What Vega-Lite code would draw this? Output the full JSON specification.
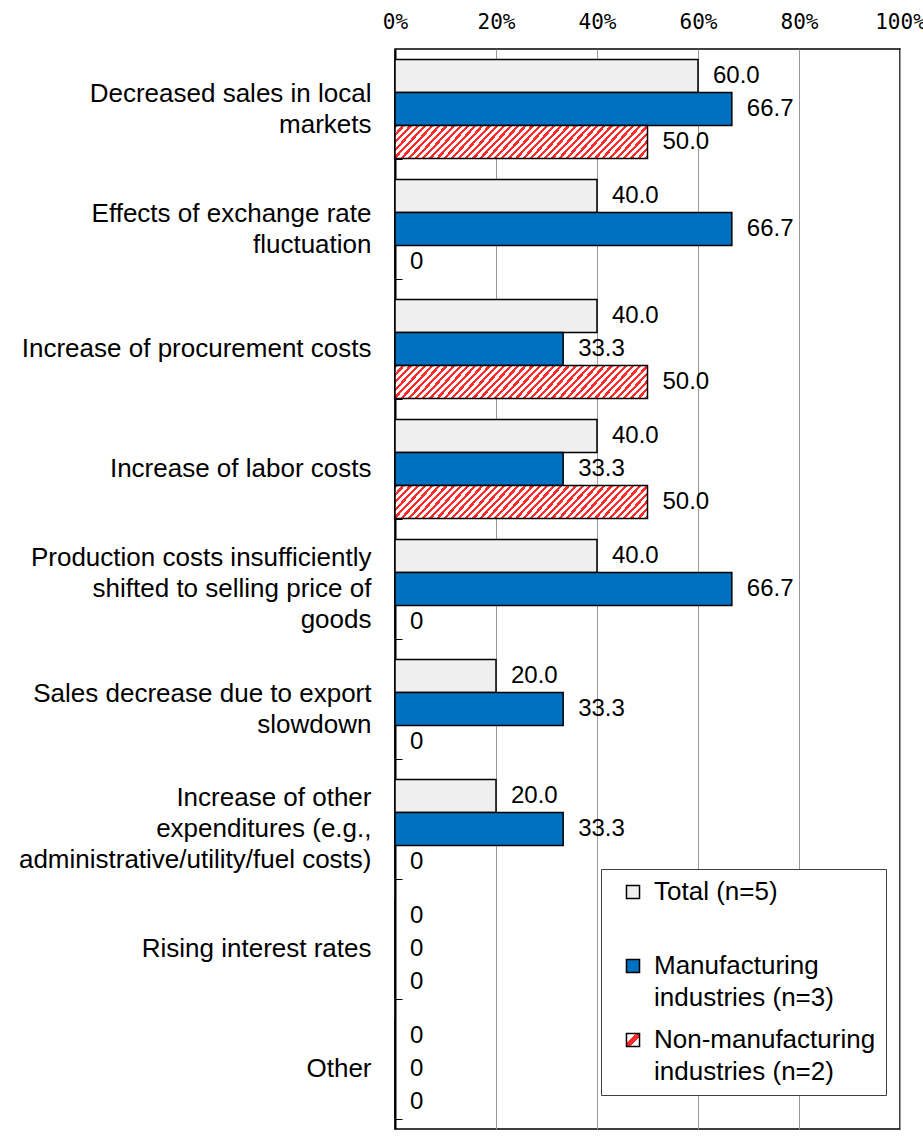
{
  "$schema": "https://vega.github.io/schema/vega-lite/v6.json",
  "width": 505,
  "height": 1080,
  "autosize": {"type": "none"},
  "padding": {"left": 395, "top": 49, "right": 23, "bottom": 10},
  "background": "white",
  "config": {
    "view": {"stroke": "black", "strokeWidth": 1.5},
    "font": "Liberation Sans"
  },
  "data": {
    "values": [
      {"category": "Decreased sales in local|markets", "group": "Total (n=5)", "value": 60.0},
      {"category": "Decreased sales in local|markets", "group": "Manufacturing industries (n=3)", "value": 66.7},
      {"category": "Decreased sales in local|markets", "group": "Non-manufacturing industries (n=2)", "value": 50.0},
      {"category": "Effects of exchange rate|fluctuation", "group": "Total (n=5)", "value": 40.0},
      {"category": "Effects of exchange rate|fluctuation", "group": "Manufacturing industries (n=3)", "value": 66.7},
      {"category": "Effects of exchange rate|fluctuation", "group": "Non-manufacturing industries (n=2)", "value": 0},
      {"category": "Increase of procurement costs", "group": "Total (n=5)", "value": 40.0},
      {"category": "Increase of procurement costs", "group": "Manufacturing industries (n=3)", "value": 33.3},
      {"category": "Increase of procurement costs", "group": "Non-manufacturing industries (n=2)", "value": 50.0},
      {"category": "Increase of labor costs", "group": "Total (n=5)", "value": 40.0},
      {"category": "Increase of labor costs", "group": "Manufacturing industries (n=3)", "value": 33.3},
      {"category": "Increase of labor costs", "group": "Non-manufacturing industries (n=2)", "value": 50.0},
      {"category": "Production costs insufficiently|shifted to selling price of|goods", "group": "Total (n=5)", "value": 40.0},
      {"category": "Production costs insufficiently|shifted to selling price of|goods", "group": "Manufacturing industries (n=3)", "value": 66.7},
      {"category": "Production costs insufficiently|shifted to selling price of|goods", "group": "Non-manufacturing industries (n=2)", "value": 0},
      {"category": "Sales decrease due to export|slowdown", "group": "Total (n=5)", "value": 20.0},
      {"category": "Sales decrease due to export|slowdown", "group": "Manufacturing industries (n=3)", "value": 33.3},
      {"category": "Sales decrease due to export|slowdown", "group": "Non-manufacturing industries (n=2)", "value": 0},
      {"category": "Increase of other|expenditures (e.g.,|administrative/utility/fuel costs)", "group": "Total (n=5)", "value": 20.0},
      {"category": "Increase of other|expenditures (e.g.,|administrative/utility/fuel costs)", "group": "Manufacturing industries (n=3)", "value": 33.3},
      {"category": "Increase of other|expenditures (e.g.,|administrative/utility/fuel costs)", "group": "Non-manufacturing industries (n=2)", "value": 0},
      {"category": "Rising interest rates", "group": "Total (n=5)", "value": 0},
      {"category": "Rising interest rates", "group": "Manufacturing industries (n=3)", "value": 0},
      {"category": "Rising interest rates", "group": "Non-manufacturing industries (n=2)", "value": 0},
      {"category": "Other", "group": "Total (n=5)", "value": 0},
      {"category": "Other", "group": "Manufacturing industries (n=3)", "value": 0},
      {"category": "Other", "group": "Non-manufacturing industries (n=2)", "value": 0}
    ]
  },
  "encoding": {
    "y": {
      "field": "category",
      "type": "nominal",
      "sort": null,
      "scale": {"paddingInner": 0.175, "paddingOuter": 0.0875},
      "axis": {
        "title": null,
        "labelExpr": "split(datum.label, '|')",
        "labelFont": "Liberation Sans",
        "labelFontSize": 26,
        "labelColor": "black",
        "labelLineHeight": 31,
        "labelOffset": -15.5,
        "labelPadding": 31,
        "labelLimit": 400,
        "labelAlign": "right",
        "labelBaseline": {
          "condition": [
            {"test": "length(split(datum.value, '|')) == 1", "value": "line-top"},
            {"test": "length(split(datum.value, '|')) == 3", "value": "line-bottom"}
          ],
          "value": "middle"
        },
        "labelOverlap": false,
        "tickBand": "extent",
        "tickSize": -7,
        "tickColor": "black",
        "tickWidth": 1,
        "domainColor": "black",
        "domainWidth": 2
      }
    },
    "yOffset": {
      "field": "group",
      "type": "nominal",
      "sort": ["Total (n=5)", "Manufacturing industries (n=3)", "Non-manufacturing industries (n=2)"],
      "scale": {"paddingInner": 0, "paddingOuter": 0}
    },
    "x": {
      "field": "value",
      "type": "quantitative",
      "scale": {"domain": [0, 100], "nice": false},
      "axis": {
        "orient": "top",
        "title": null,
        "values": [0, 20, 40, 60, 80, 100],
        "labelExpr": "datum.value + '%'",
        "labelFont": "DejaVu Sans Mono",
        "labelFontSize": 21,
        "labelColor": "black",
        "labelPadding": 17,
        "labelFlush": false,
        "labelOverlap": false,
        "domain": false,
        "ticks": false,
        "grid": true,
        "gridColor": "#9a9a9a",
        "gridWidth": 1
      }
    }
  },
  "layer": [
    {
      "mark": {"type": "bar", "stroke": "black", "strokeWidth": 1.5},
      "encoding": {
        "color": {
          "condition": {
            "test": "datum.group === 'Non-manufacturing industries (n=2)'",
            "value": {
              "gradient": "linear", "x1": 0, "y1": 0, "x2": 1.12, "y2": 0.138,
              "stops": [
                {"offset": 0, "color": "#ff2b2b"}, {"offset": 0.011, "color": "#ff2b2b"}, {"offset": 0.011, "color": "#ffffff"}, {"offset": 0.025, "color": "#ffffff"},
                {"offset": 0.025, "color": "#ff2b2b"}, {"offset": 0.036, "color": "#ff2b2b"}, {"offset": 0.036, "color": "#ffffff"}, {"offset": 0.05, "color": "#ffffff"},
                {"offset": 0.05, "color": "#ff2b2b"}, {"offset": 0.061, "color": "#ff2b2b"}, {"offset": 0.061, "color": "#ffffff"}, {"offset": 0.075, "color": "#ffffff"},
                {"offset": 0.075, "color": "#ff2b2b"}, {"offset": 0.086, "color": "#ff2b2b"}, {"offset": 0.086, "color": "#ffffff"}, {"offset": 0.1, "color": "#ffffff"},
                {"offset": 0.1, "color": "#ff2b2b"}, {"offset": 0.111, "color": "#ff2b2b"}, {"offset": 0.111, "color": "#ffffff"}, {"offset": 0.125, "color": "#ffffff"},
                {"offset": 0.125, "color": "#ff2b2b"}, {"offset": 0.136, "color": "#ff2b2b"}, {"offset": 0.136, "color": "#ffffff"}, {"offset": 0.15, "color": "#ffffff"},
                {"offset": 0.15, "color": "#ff2b2b"}, {"offset": 0.161, "color": "#ff2b2b"}, {"offset": 0.161, "color": "#ffffff"}, {"offset": 0.175, "color": "#ffffff"},
                {"offset": 0.175, "color": "#ff2b2b"}, {"offset": 0.186, "color": "#ff2b2b"}, {"offset": 0.186, "color": "#ffffff"}, {"offset": 0.2, "color": "#ffffff"},
                {"offset": 0.2, "color": "#ff2b2b"}, {"offset": 0.211, "color": "#ff2b2b"}, {"offset": 0.211, "color": "#ffffff"}, {"offset": 0.225, "color": "#ffffff"},
                {"offset": 0.225, "color": "#ff2b2b"}, {"offset": 0.236, "color": "#ff2b2b"}, {"offset": 0.236, "color": "#ffffff"}, {"offset": 0.25, "color": "#ffffff"},
                {"offset": 0.25, "color": "#ff2b2b"}, {"offset": 0.261, "color": "#ff2b2b"}, {"offset": 0.261, "color": "#ffffff"}, {"offset": 0.275, "color": "#ffffff"},
                {"offset": 0.275, "color": "#ff2b2b"}, {"offset": 0.286, "color": "#ff2b2b"}, {"offset": 0.286, "color": "#ffffff"}, {"offset": 0.3, "color": "#ffffff"},
                {"offset": 0.3, "color": "#ff2b2b"}, {"offset": 0.311, "color": "#ff2b2b"}, {"offset": 0.311, "color": "#ffffff"}, {"offset": 0.325, "color": "#ffffff"},
                {"offset": 0.325, "color": "#ff2b2b"}, {"offset": 0.336, "color": "#ff2b2b"}, {"offset": 0.336, "color": "#ffffff"}, {"offset": 0.35, "color": "#ffffff"},
                {"offset": 0.35, "color": "#ff2b2b"}, {"offset": 0.361, "color": "#ff2b2b"}, {"offset": 0.361, "color": "#ffffff"}, {"offset": 0.375, "color": "#ffffff"},
                {"offset": 0.375, "color": "#ff2b2b"}, {"offset": 0.386, "color": "#ff2b2b"}, {"offset": 0.386, "color": "#ffffff"}, {"offset": 0.4, "color": "#ffffff"},
                {"offset": 0.4, "color": "#ff2b2b"}, {"offset": 0.411, "color": "#ff2b2b"}, {"offset": 0.411, "color": "#ffffff"}, {"offset": 0.425, "color": "#ffffff"},
                {"offset": 0.425, "color": "#ff2b2b"}, {"offset": 0.436, "color": "#ff2b2b"}, {"offset": 0.436, "color": "#ffffff"}, {"offset": 0.45, "color": "#ffffff"},
                {"offset": 0.45, "color": "#ff2b2b"}, {"offset": 0.461, "color": "#ff2b2b"}, {"offset": 0.461, "color": "#ffffff"}, {"offset": 0.475, "color": "#ffffff"},
                {"offset": 0.475, "color": "#ff2b2b"}, {"offset": 0.486, "color": "#ff2b2b"}, {"offset": 0.486, "color": "#ffffff"}, {"offset": 0.5, "color": "#ffffff"},
                {"offset": 0.5, "color": "#ff2b2b"}, {"offset": 0.511, "color": "#ff2b2b"}, {"offset": 0.511, "color": "#ffffff"}, {"offset": 0.525, "color": "#ffffff"},
                {"offset": 0.525, "color": "#ff2b2b"}, {"offset": 0.536, "color": "#ff2b2b"}, {"offset": 0.536, "color": "#ffffff"}, {"offset": 0.55, "color": "#ffffff"},
                {"offset": 0.55, "color": "#ff2b2b"}, {"offset": 0.561, "color": "#ff2b2b"}, {"offset": 0.561, "color": "#ffffff"}, {"offset": 0.575, "color": "#ffffff"},
                {"offset": 0.575, "color": "#ff2b2b"}, {"offset": 0.586, "color": "#ff2b2b"}, {"offset": 0.586, "color": "#ffffff"}, {"offset": 0.6, "color": "#ffffff"},
                {"offset": 0.6, "color": "#ff2b2b"}, {"offset": 0.611, "color": "#ff2b2b"}, {"offset": 0.611, "color": "#ffffff"}, {"offset": 0.625, "color": "#ffffff"},
                {"offset": 0.625, "color": "#ff2b2b"}, {"offset": 0.636, "color": "#ff2b2b"}, {"offset": 0.636, "color": "#ffffff"}, {"offset": 0.65, "color": "#ffffff"},
                {"offset": 0.65, "color": "#ff2b2b"}, {"offset": 0.661, "color": "#ff2b2b"}, {"offset": 0.661, "color": "#ffffff"}, {"offset": 0.675, "color": "#ffffff"},
                {"offset": 0.675, "color": "#ff2b2b"}, {"offset": 0.686, "color": "#ff2b2b"}, {"offset": 0.686, "color": "#ffffff"}, {"offset": 0.7, "color": "#ffffff"},
                {"offset": 0.7, "color": "#ff2b2b"}, {"offset": 0.711, "color": "#ff2b2b"}, {"offset": 0.711, "color": "#ffffff"}, {"offset": 0.725, "color": "#ffffff"},
                {"offset": 0.725, "color": "#ff2b2b"}, {"offset": 0.736, "color": "#ff2b2b"}, {"offset": 0.736, "color": "#ffffff"}, {"offset": 0.75, "color": "#ffffff"},
                {"offset": 0.75, "color": "#ff2b2b"}, {"offset": 0.761, "color": "#ff2b2b"}, {"offset": 0.761, "color": "#ffffff"}, {"offset": 0.775, "color": "#ffffff"},
                {"offset": 0.775, "color": "#ff2b2b"}, {"offset": 0.786, "color": "#ff2b2b"}, {"offset": 0.786, "color": "#ffffff"}, {"offset": 0.8, "color": "#ffffff"},
                {"offset": 0.8, "color": "#ff2b2b"}, {"offset": 0.811, "color": "#ff2b2b"}, {"offset": 0.811, "color": "#ffffff"}, {"offset": 0.825, "color": "#ffffff"},
                {"offset": 0.825, "color": "#ff2b2b"}, {"offset": 0.836, "color": "#ff2b2b"}, {"offset": 0.836, "color": "#ffffff"}, {"offset": 0.85, "color": "#ffffff"},
                {"offset": 0.85, "color": "#ff2b2b"}, {"offset": 0.861, "color": "#ff2b2b"}, {"offset": 0.861, "color": "#ffffff"}, {"offset": 0.875, "color": "#ffffff"},
                {"offset": 0.875, "color": "#ff2b2b"}, {"offset": 0.886, "color": "#ff2b2b"}, {"offset": 0.886, "color": "#ffffff"}, {"offset": 0.9, "color": "#ffffff"},
                {"offset": 0.9, "color": "#ff2b2b"}, {"offset": 0.911, "color": "#ff2b2b"}, {"offset": 0.911, "color": "#ffffff"}, {"offset": 0.925, "color": "#ffffff"},
                {"offset": 0.925, "color": "#ff2b2b"}, {"offset": 0.936, "color": "#ff2b2b"}, {"offset": 0.936, "color": "#ffffff"}, {"offset": 0.95, "color": "#ffffff"},
                {"offset": 0.95, "color": "#ff2b2b"}, {"offset": 0.961, "color": "#ff2b2b"}, {"offset": 0.961, "color": "#ffffff"}, {"offset": 0.975, "color": "#ffffff"},
                {"offset": 0.975, "color": "#ff2b2b"}, {"offset": 0.986, "color": "#ff2b2b"}, {"offset": 0.986, "color": "#ffffff"}, {"offset": 1, "color": "#ffffff"}
              ]
            }
          },
          "field": "group",
          "type": "nominal",
          "sort": ["Total (n=5)", "Manufacturing industries (n=3)", "Non-manufacturing industries (n=2)"],
          "scale": {
            "domain": ["Total (n=5)", "Manufacturing industries (n=3)", "Non-manufacturing industries (n=2)"],
            "range": ["#efefef", "#0070C0", {"expr": "{gradient: 'linear', x1: 0, y1: 0, x2: 1, y2: 1, stops: [{offset: 0, color: '#ffffff'}, {offset: 0.36, color: '#ffffff'}, {offset: 0.36, color: '#ff2b2b'}, {offset: 0.64, color: '#ff2b2b'}, {offset: 0.64, color: '#ffffff'}, {offset: 1, color: '#ffffff'}]}"}]
          },
          "legend": {
            "orient": "none",
            "legendX": 206,
            "legendY": 820,
            "title": null,
            "fillColor": "white",
            "strokeColor": "#404040",
            "padding": 10,
            "symbolOffset": 9,
            "symbolType": "square",
            "symbolSize": 170,
            "symbolStrokeColor": "black",
            "symbolStrokeWidth": 1.5,
            "labelFont": "Liberation Sans",
            "labelFontSize": 26,
            "labelColor": "black",
            "labelLimit": 400,
            "labelOffset": 8,
            "rowPadding": 16,
            "labelExpr": "datum.label == 'Total (n=5)' ? ['Total (n=5)', '\u2800'] : split(replace(datum.label, ' industries', '|industries'), '|')",
            "encoding": {
              "labels": {"lineHeight": {"value": 32}}
            }
          }
        }
      }
    },
    {
      "mark": {"type": "text", "align": "left", "baseline": "middle", "dx": 15, "font": "Liberation Sans", "fontSize": 24, "color": "black"},
      "encoding": {
        "text": {
          "condition": {"test": "datum.value == 0", "value": "0"},
          "field": "value",
          "type": "quantitative",
          "format": ".1f"
        }
      }
    }
  ]
}
